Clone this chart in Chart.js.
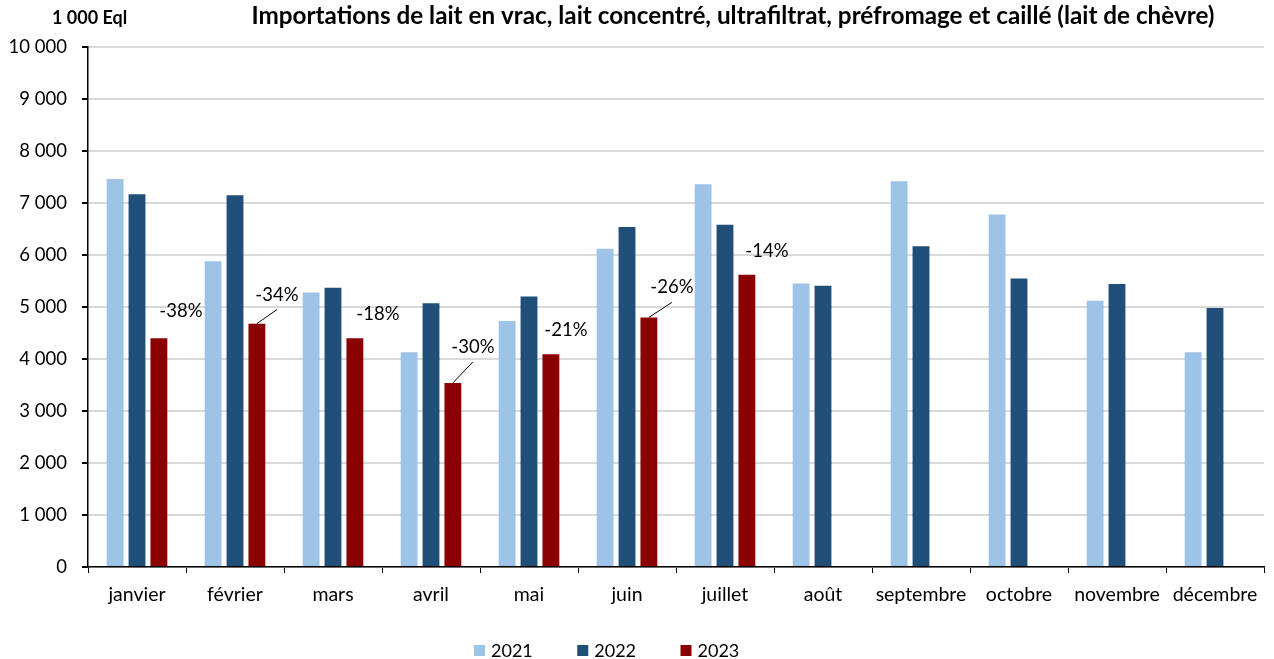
<!DOCTYPE html>
<html>
<head>
<meta charset="utf-8">
<script src="https://cdn.jsdelivr.net/npm/chart.js@4"></script>
<style>
  body { margin: 0; background: #fff; }
  #wrap { width: 1274px; height: 659px; position: relative; }
</style>
</head>
<body>
<div id="wrap"><canvas id="chart"></canvas></div>
<script>
const months = ['janvier', 'février', 'mars', 'avril', 'mai', 'juin', 'juillet', 'août', 'septembre', 'octobre', 'novembre', 'décembre'];
const values2021 = [7460, 5880, 5280, 4130, 4730, 6120, 7360, 5450, 7420, 6780, 5120, 4130];
const values2022 = [7170, 7150, 5370, 5070, 5200, 6540, 6580, 5410, 6170, 5550, 5440, 4980];
const values2023 = [4400, 4680, 4400, 3540, 4090, 4800, 5620, null, null, null, null, null];
const changeLabels = ['-38%', '-34%', '-18%', '-30%', '-21%', '-26%', '-14%'];
const yTicks = [0, 1000, 2000, 3000, 4000, 5000, 6000, 7000, 8000, 9000, 10000];

// label placement relative to the top of the 2023 bar, and whether a leader line is drawn
const labelOffsets = [[22, -27, false], [20, -29, true], [23, -24, false], [20, -36, true], [15, -24, false], [23, -30, true], [20, -24, false]];

const FONT = 'Lato, "Open Sans", sans-serif';
const TITLE = 'Importations de lait en vrac, lait concentré, ultrafiltrat, préfromage et caillé (lait de chèvre)';

function fmt(v) {
  return String(v).replace(/\B(?=(\d{3})+(?!\d))/g, ' ');
}

const extras = {
  id: 'extras',
  afterDatasetsDraw(chart) {
    const ctx = chart.ctx;
    const meta = chart.getDatasetMeta(2);
    ctx.save();
    ctx.font = '18.5px ' + FONT;
    ctx.fillStyle = '#000';
    ctx.textAlign = 'center';
    ctx.textBaseline = 'middle';
    changeLabels.forEach((txt, i) => {
      const bar = meta.data[i];
      const off = labelOffsets[i];
      const lx = bar.x + off[0];
      const ly = bar.y + off[1];
      ctx.fillText(txt, lx, ly);
      if (off[2]) {
        ctx.beginPath();
        ctx.strokeStyle = '#000';
        ctx.lineWidth = 1;
        ctx.moveTo(bar.x, bar.y);
        ctx.lineTo(lx, ly + 15);
        ctx.stroke();
      }
    });
    ctx.restore();
  },
  afterDraw(chart) {
    const ctx = chart.ctx;
    ctx.save();
    ctx.fillStyle = '#000';
    ctx.textBaseline = 'alphabetic';
    ctx.textAlign = 'left';
    ctx.font = 'bold 18px ' + FONT;
    ctx.fillText('1 000 Eql', 52, 24);

    // title sized to span the same width as the original
    ctx.font = 'bold 24px ' + FONT;
    const w = ctx.measureText(TITLE).width;
    const size = Math.min(26, 24 * 963 / w);
    ctx.font = 'bold ' + size.toFixed(2) + 'px ' + FONT;
    ctx.textAlign = 'center';
    ctx.fillText(TITLE, 733, 24);

    // legend
    ctx.font = '18px ' + FONT;
    ctx.textAlign = 'left';
    let x = 474;
    chart.data.datasets.forEach(ds => {
      ctx.fillStyle = ds.backgroundColor;
      ctx.fillRect(x, 645, 11, 11);
      ctx.fillStyle = '#000';
      ctx.fillText(ds.label, x + 17, 657);
      x += 17 + ctx.measureText(ds.label).width + 44.5;
    });
    ctx.restore();
  }
};

new Chart(document.getElementById('chart'), {
  type: 'bar',
  data: {
    labels: months,
    datasets: [
      { label: '2021', data: values2021, backgroundColor: '#9DC3E6' },
      { label: '2022', data: values2022, backgroundColor: '#1F4E79' },
      { label: '2023', data: values2023, backgroundColor: '#8B0000' }
    ]
  },
  options: {
    responsive: true,
    maintainAspectRatio: false,
    animation: false,
    datasets: { bar: { categoryPercentage: 0.67, barPercentage: 0.77 } },
    layout: { padding: { top: 47, right: 10, left: 0, bottom: 0 } },
    plugins: {
      title: { display: false },
      tooltip: { enabled: false },
      legend: { display: false }
    },
    scales: {
      x: {
        grid: { display: true, drawOnChartArea: false, offset: true, tickLength: 6, tickColor: '#000' },
        border: { color: '#000', width: 1.5 },
        ticks: { font: { family: FONT, size: 19.5 }, color: '#000', padding: 10, maxRotation: 0, autoSkip: false },
        afterFit(scale) { scale.height = 92; }
      },
      y: {
        min: 0,
        max: 10000,
        afterBuildTicks(scale) { scale.ticks = yTicks.map(v => ({ value: v })); },
        grid: { color: '#d9d9d9', lineWidth: 2, tickLength: 6, tickColor: '#000' },
        border: { color: '#000', width: 1.5 },
        ticks: { font: { family: FONT, size: 18.5 }, color: '#000', padding: 15, callback: v => fmt(v) },
        afterFit(scale) { scale.width = 88; }
      }
    }
  },
  plugins: [extras]
});
</script>
</body>
</html>
